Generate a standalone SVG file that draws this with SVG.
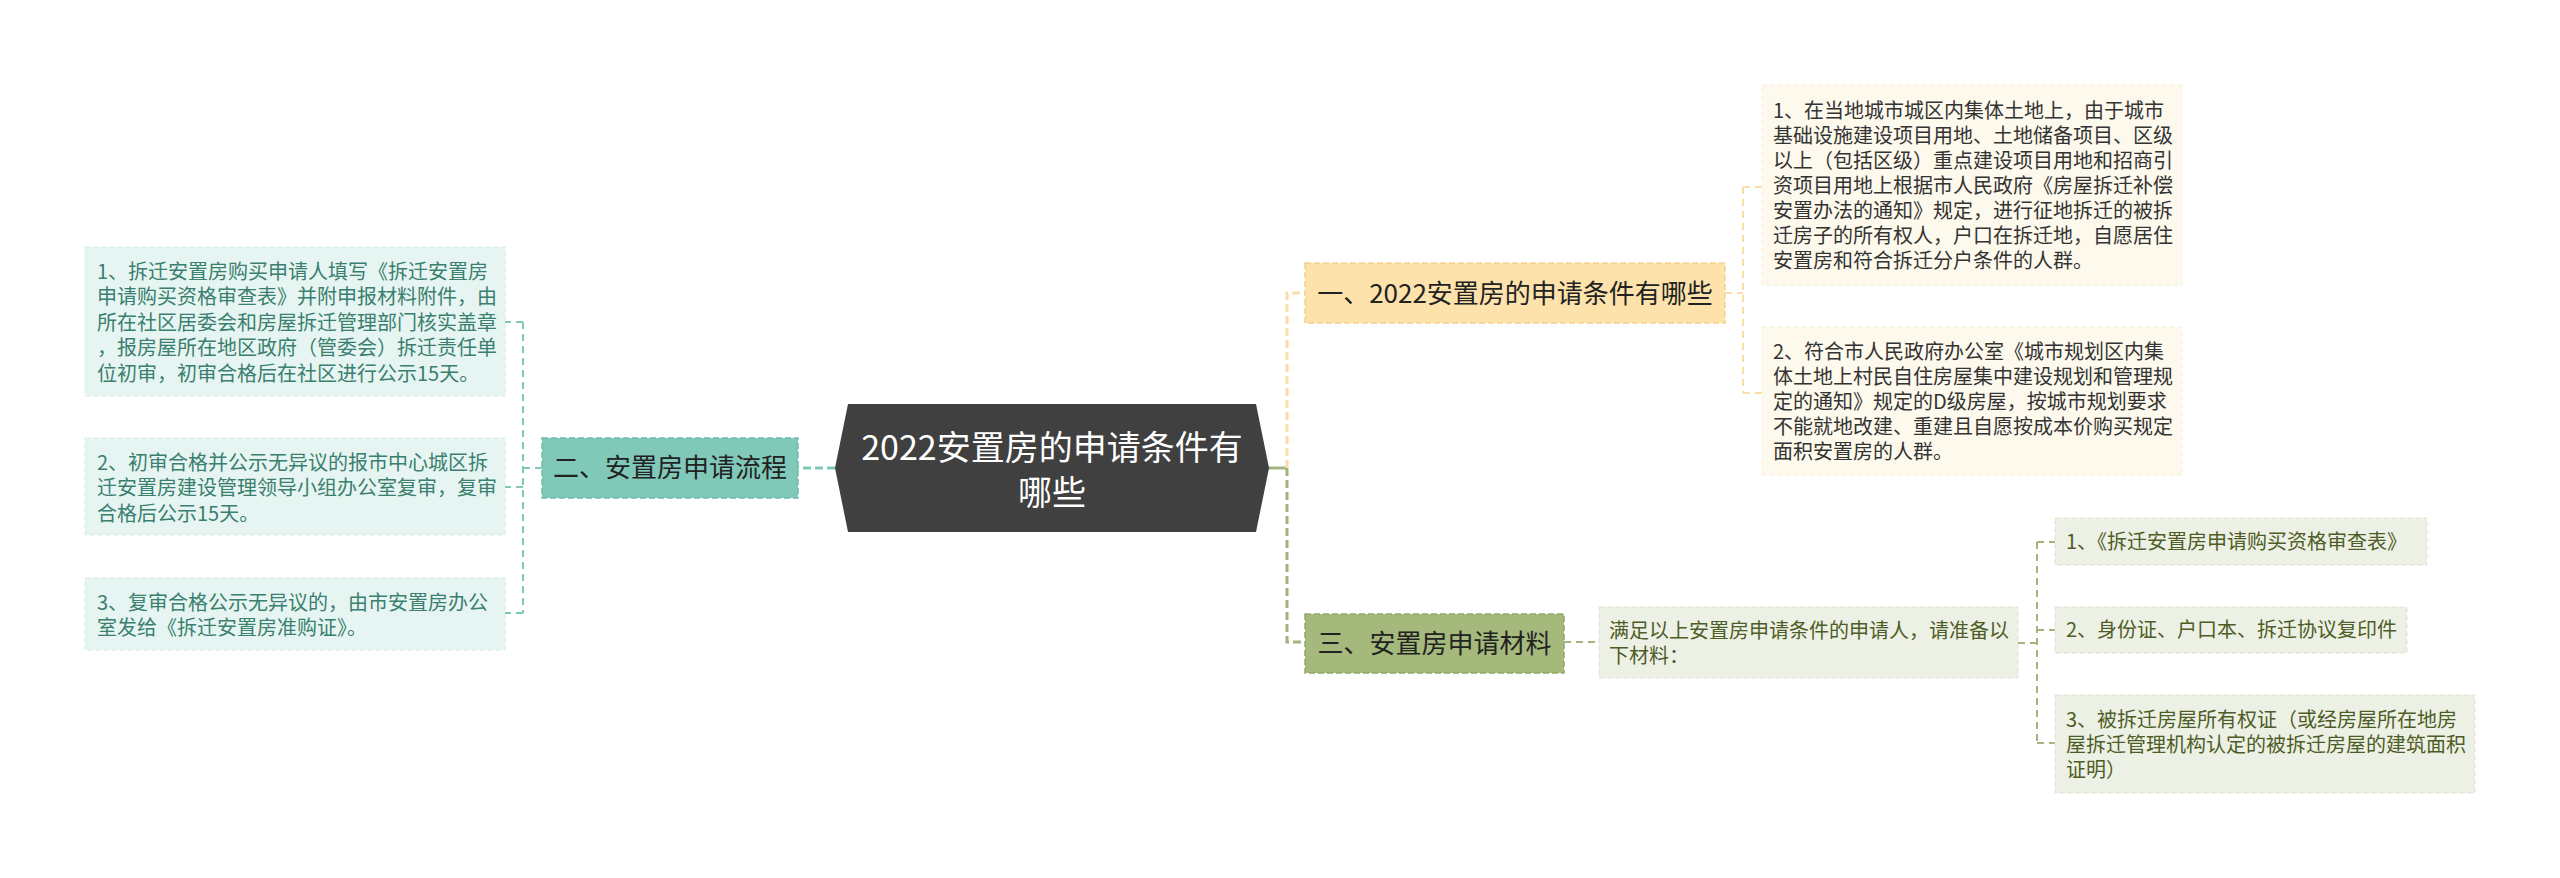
<svg xmlns="http://www.w3.org/2000/svg" width="2560" height="878" viewBox="0 0 2560 878">
<style>
text{font-family:"Noto Sans CJK SC","Noto Sans",sans-serif}
.center{fill:#404040}
.ct{fill:#ffffff;font-size:34px;text-anchor:middle}
.bt{fill:#222222;font-size:26px;text-anchor:middle}
.lt{font-size:20px}
.tealN{fill:#80c9b9;stroke:#6fbcab;stroke-width:1.5;stroke-dasharray:6 3}
.orgN{fill:#fde3ab;stroke:#f3d290;stroke-width:1.5;stroke-dasharray:6 3}
.grnN{fill:#a4b97b;stroke:#93a96a;stroke-width:1.5;stroke-dasharray:6 3}
.tealL{fill:#e6f5f1;stroke:#d6ece6;stroke-width:1;stroke-dasharray:5 3}
.orgL{fill:#fdf9ec;stroke:#f5efdc;stroke-width:1;stroke-dasharray:5 3}
.grnL{fill:#edf0e4;stroke:#dfe4d2;stroke-width:1;stroke-dasharray:5 3}
.tealT{fill:#3a7f6f}
.orgT{fill:#333333}
.grnT{fill:#4d5d27}
.cn{fill:none;stroke-linecap:butt}
.tealC{stroke:#80c9b9}
.orgC{stroke:#f7dfa6}
.grnC{stroke:#a3b47c}
.main{stroke-width:3;stroke-dasharray:8 4}
.sub{stroke-width:2;stroke-dasharray:7 5}
</style>
<rect width="2560" height="878" fill="#ffffff"/>
<g id="connectors">
  <path class="cn tealC main" d="M835,468 H798"/>
  <path class="cn tealC sub" d="M542,468 H523 M523,322 V613 M523,322 H505 M523,487 H505 M523,613 H505"/>
  <path class="cn grnC" stroke-width="3" d="M1268,468 H1287"/>
  <path class="cn orgC main" d="M1287,468 V293 H1305"/>
  <path class="cn grnC main" d="M1287,468 V642 H1305"/>
  <path class="cn orgC sub" d="M1725,293 H1743 M1743,187 V393 M1743,187 H1762 M1743,393 H1762"/>
  <path class="cn grnC sub" d="M1564,642 H1599 M2018,643 H2037 M2037,542 V743 M2037,542 H2055 M2037,630 H2055 M2037,743 H2055"/>
</g>
<g id="root">
  <polygon class="center" points="848,404 1256,404 1269,468 1256,532 848,532 835,468"/>
  <text class="ct" x="1052" y="460">2022安置房的申请条件有</text>
  <text class="ct" x="1052" y="505">哪些</text>
</g>
<g id="branch-2">
  <rect class="tealN" x="542" y="438" width="256" height="60"/>
  <text class="bt" x="670" y="477">二、安置房申请流程</text>
</g>
<g id="leaf-2-1">
  <rect class="tealL" x="85" y="247" width="420" height="149"/>
  <text class="lt tealT" x="97" y="279"><tspan x="97">1、拆迁安置房购买申请人填写《拆迁安置房</tspan><tspan x="97" dy="25.4">申请购买资格审查表》并附申报材料附件，由</tspan><tspan x="97" dy="25.4">所在社区居委会和房屋拆迁管理部门核实盖章</tspan><tspan x="97" dy="25.4">，报房屋所在地区政府（管委会）拆迁责任单</tspan><tspan x="97" dy="25.4">位初审，初审合格后在社区进行公示15天。</tspan></text>
</g>
<g id="leaf-2-2">
  <rect class="tealL" x="85" y="438" width="420" height="97"/>
  <text class="lt tealT" x="97" y="470"><tspan x="97">2、初审合格并公示无异议的报市中心城区拆</tspan><tspan x="97" dy="25.4">迁安置房建设管理领导小组办公室复审，复审</tspan><tspan x="97" dy="25.4">合格后公示15天。</tspan></text>
</g>
<g id="leaf-2-3">
  <rect class="tealL" x="85" y="578" width="420" height="72"/>
  <text class="lt tealT" x="97" y="610"><tspan x="97">3、复审合格公示无异议的，由市安置房办公</tspan><tspan x="97" dy="25.4">室发给《拆迁安置房准购证》。</tspan></text>
</g>
<g id="branch-1">
  <rect class="orgN" x="1305" y="263" width="420" height="60"/>
  <text class="bt" x="1515" y="303">一、2022安置房的申请条件有哪些</text>
</g>
<g id="leaf-1-1">
  <rect class="orgL" x="1762" y="85" width="420" height="200"/>
  <text class="lt orgT" x="1773" y="118"><tspan x="1773">1、在当地城市城区内集体土地上，由于城市</tspan><tspan x="1773" dy="25">基础设施建设项目用地、土地储备项目、区级</tspan><tspan x="1773" dy="25">以上（包括区级）重点建设项目用地和招商引</tspan><tspan x="1773" dy="25">资项目用地上根据市人民政府《房屋拆迁补偿</tspan><tspan x="1773" dy="25">安置办法的通知》规定，进行征地拆迁的被拆</tspan><tspan x="1773" dy="25">迁房子的所有权人，户口在拆迁地，自愿居住</tspan><tspan x="1773" dy="25">安置房和符合拆迁分户条件的人群。</tspan></text>
</g>
<g id="leaf-1-2">
  <rect class="orgL" x="1762" y="327" width="420" height="148"/>
  <text class="lt orgT" x="1773" y="359"><tspan x="1773">2、符合市人民政府办公室《城市规划区内集</tspan><tspan x="1773" dy="25">体土地上村民自住房屋集中建设规划和管理规</tspan><tspan x="1773" dy="25">定的通知》规定的D级房屋，按城市规划要求</tspan><tspan x="1773" dy="25">不能就地改建、重建且自愿按成本价购买规定</tspan><tspan x="1773" dy="25">面积安置房的人群。</tspan></text>
</g>
<g id="branch-3">
  <rect class="grnN" x="1305" y="614" width="259" height="59"/>
  <text class="bt" x="1434.5" y="653">三、安置房申请材料</text>
</g>
<g id="child-3">
  <rect class="grnL" x="1599" y="607" width="419" height="71"/>
  <text class="lt grnT" x="1609" y="638"><tspan x="1609">满足以上安置房申请条件的申请人，请准备以</tspan><tspan x="1609" dy="25.4">下材料：</tspan></text>
</g>
<g id="leaf-3-1">
  <rect class="grnL" x="2055" y="518" width="372" height="47"/>
  <text class="lt grnT" x="2066" y="549">1、《拆迁安置房申请购买资格审查表》</text>
</g>
<g id="leaf-3-2">
  <rect class="grnL" x="2055" y="607" width="352" height="46"/>
  <text class="lt grnT" x="2066" y="637">2、身份证、户口本、拆迁协议复印件</text>
</g>
<g id="leaf-3-3">
  <rect class="grnL" x="2055" y="695" width="420" height="98"/>
  <text class="lt grnT" x="2066" y="727"><tspan x="2066">3、被拆迁房屋所有权证（或经房屋所在地房</tspan><tspan x="2066" dy="25">屋拆迁管理机构认定的被拆迁房屋的建筑面积</tspan><tspan x="2066" dy="25">证明）</tspan></text>
</g>
</svg>
